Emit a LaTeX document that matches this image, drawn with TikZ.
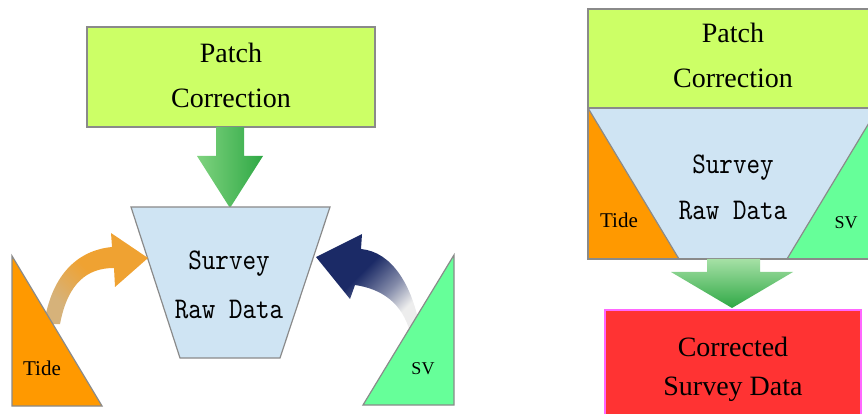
\documentclass[tikz,border=0pt]{standalone}
\usepackage{fontspec}
\setmainfont{Liberation Serif}
\newfontfamily\rawmono{lmmono10-regular.otf}[FakeStretch=0.86]
\definecolor{patchfill}{HTML}{CCFF66}
\definecolor{rawfill}{HTML}{CFE4F3}
\definecolor{tidefill}{HTML}{FF9900}
\definecolor{svfill}{HTML}{66FF99}
\definecolor{outfill}{HTML}{FF3333}
\definecolor{outline}{HTML}{FF66FF}
\definecolor{edgegray}{HTML}{8A8A8A}
\definecolor{greenlight}{HTML}{7FD37F}
\definecolor{greendark}{HTML}{2FA845}
\definecolor{tidetail}{HTML}{D6B27A}
\definecolor{tidehead}{HTML}{EFA232}
\definecolor{svhead}{HTML}{1B2A66}
\definecolor{svtail}{HTML}{EDEDED}
% dark head, fading tail (used rotated along the curved arrow)
\pgfdeclarehorizontalshading{svfade}{100bp}{color(0bp)=(svhead); color(44bp)=(svhead);
  color(60bp)=(svhead!50!svtail); color(72bp)=(svtail); color(100bp)=(svtail)}
\pgfdeclarehorizontalshading{tidefade}{100bp}{color(0bp)=(tidetail); color(28bp)=(tidetail);
  color(50bp)=(tidehead); color(100bp)=(tidehead)}
\begin{document}
\begin{tikzpicture}[x=1pt,y=-1pt,
  shape edge/.style={draw=edgegray, line width=1.2pt, line join=miter},
  serif big/.style={anchor=base, inner sep=0pt, font=\fontsize{28}{33}\selectfont},
  mono big/.style={anchor=base, inner sep=0pt, font=\rawmono\fontsize{30}{35}\selectfont},
  small label/.style={anchor=base, inner sep=0pt, font=\fontsize{21}{25}\selectfont},
  sv label/.style={anchor=base, inner sep=0pt, font=\fontsize{18}{21}\selectfont}]
\useasboundingbox (0,0) rectangle (868,414);
\clip (0,0) rectangle (868,414);

% ---------- left: inputs before correction ----------
% patch correction box
\draw[shape edge, fill=patchfill] (87,27) rectangle (375,127);
\node[serif big] (pcA) at (231,63) {Patch};
\node[serif big] (pcB) at (231,108) {Correction};

% block arrow down into the raw data
\shade[left color=greenlight, right color=greendark]
  (216,127) -- (244,127) -- (244,156) -- (263,156) -- (230,208)
  -- (197,156) -- (216,156) -- cycle;

% raw data trapezoid
\draw[shape edge, fill=rawfill] (131,207) -- (330,207) -- (280,358) -- (180,358) -- cycle;
\node[mono big] (rawA) at (229,270) {Survey};
\node[mono big] (rawB) at (229,318) {Raw Data};

% curved arrow from tide
\shade[shading=tidefade, shading angle=45]
  (44,324) .. controls (52,272) and (80,250) .. (112,247)
  -- (111,233) -- (148,258) -- (115,287) -- (114,268)
  .. controls (88,268) and (68,282) .. (60,324) -- cycle;

% curved arrow from sound velocity
\shade[shading=svfade, shading angle=-45]
  (361,249) .. controls (392,252) and (412,285) .. (420,328)
  -- (410,332) .. controls (402,303) and (382,289) .. (355,285)
  -- (350,299) -- (316,257) -- (362,234) -- cycle;

% tide triangle
\draw[shape edge, fill=tidefill] (12,256) -- (102,406) -- (12,406) -- cycle;
\node[small label] (tideL) at (42,375) {Tide};

% sound velocity triangle
\draw[shape edge, fill=svfill] (454,255) -- (454,405) -- (363,405) -- cycle;
\node[sv label] (svL) at (423,374) {SV};

% ---------- right: combined correction ----------
\draw[shape edge, fill=patchfill] (588,9) rectangle (878,108);
\node[serif big] (pcC) at (733,43) {Patch};
\node[serif big] (pcD) at (733,88) {Correction};

\fill[rawfill] (588,108) -- (878,108) -- (787,259) -- (679,259) -- cycle;
\draw[shape edge, fill=tidefill] (588,108) -- (679,259) -- (588,259) -- cycle;
\draw[shape edge, fill=svfill] (878,108) -- (878,259) -- (787,259) -- cycle;
\draw[shape edge] (588,108) rectangle (878,259);
\node[mono big] (rawC) at (733,174) {Survey};
\node[mono big] (rawD) at (733,220) {Raw Data};
\node[small label] (tideR) at (619,228) {Tide};
\node[sv label] (svR) at (846,229) {SV};

% block arrow down to the result
\shade[top color=greenlight!70!white, bottom color=greendark]
  (707,259) -- (760,259) -- (760,272) -- (793,272) -- (732,308)
  -- (671,272) -- (707,272) -- cycle;

% corrected data box
\draw[draw=outline, line width=1.2pt, fill=outfill] (605,310) rectangle (861,430);
\node[serif big] (outA) at (733,356) {Corrected};
\node[serif big] (outB) at (733,395) {Survey Data};
\end{tikzpicture}
\end{document}
